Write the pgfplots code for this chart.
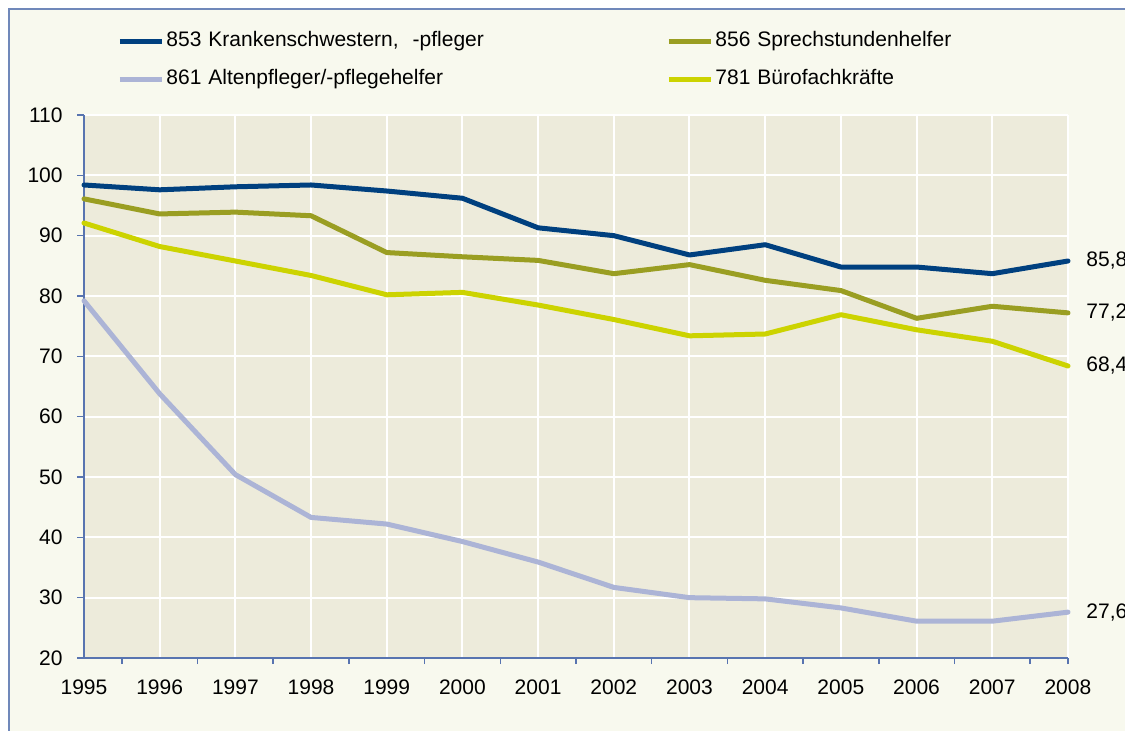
\documentclass[border=0pt]{standalone}
\usepackage{fontspec}
\setmainfont{Liberation Sans}
\usepackage{pgfplots}
\pgfplotsset{compat=1.18}
\definecolor{c853}{HTML}{00407F}
\definecolor{c856}{HTML}{9A9E22}
\definecolor{c861}{HTML}{ACB4D6}
\definecolor{c781}{HTML}{CCD300}
\definecolor{plotbg}{HTML}{EDEBDB}
\definecolor{chartbg}{HTML}{F8F9EE}
\definecolor{axblue}{HTML}{5874B0}
\definecolor{frameblue}{HTML}{7088BA}
\begin{document}
\begin{tikzpicture}
\useasboundingbox (0pt,0pt) rectangle (562.5pt,-365.5pt);
\fill[white] (0pt,0pt) rectangle (562.5pt,-365.5pt);
\filldraw[fill=chartbg, draw=frameblue, line width=1pt] (4.5pt,-4.5pt) rectangle (575pt,-380pt);
\begin{axis}[
  at={(42pt,-329pt)}, anchor=south west,
  width=492pt, height=271.5pt, scale only axis,
  xmin=1995, xmax=2008, ymin=20, ymax=110,
  xtick={1995,...,2008}, ytick={20,30,...,110},
  minor xtick={1995.5,1996.5,...,2007.5,2008},
  /pgf/number format/.cd, 1000 sep={}, assume math mode=true, /pgfplots/.cd,
  axis x line*=bottom, axis y line*=left,
  axis line style={axblue, line width=1pt},
  tick align=outside, major tick length=3.5pt, minor tick length=3pt,
  tick style={axblue, line width=0.75pt},
  every major x tick/.append style={draw=none},
  xmajorgrids, ymajorgrids,
  major grid style={white, line width=1pt},
  axis background/.style={fill=plotbg},
  tick label style={font=\fontsize{10.5}{12}\selectfont, inner sep=0pt},
  xticklabel shift=7pt, yticklabel shift=7pt,
  clip=false,
  legend columns=2,
  legend cell align=left,
  legend style={at={(0.0275,1.1637)}, anchor=north west, draw=none, fill=none,
    font=\fontsize{10.5}{12}\selectfont, column sep=0pt, row sep=8.5pt,
    nodes={inner xsep=1pt, inner ysep=0pt, text width=249pt, text height=8pt, text depth=2.5pt}},
  legend image code/.code={\draw[#1, line width=2.5pt, line cap=butt] (0pt,0pt) -- (21pt,0pt);},
  every axis plot/.append style={line width=2.5pt, line cap=round, line join=round},
]
\addplot[c853] coordinates {(1995,98.4)(1996,97.6)(1997,98.1)(1998,98.4)(1999,97.4)(2000,96.2)(2001,91.3)(2002,90.0)(2003,86.8)(2004,88.5)(2005,84.8)(2006,84.8)(2007,83.7)(2008,85.8)};
\addlegendentry{853 Krankenschwestern,\ \ -pfleger}
\addplot[c856] coordinates {(1995,96.1)(1996,93.6)(1997,93.9)(1998,93.3)(1999,87.2)(2000,86.5)(2001,85.9)(2002,83.7)(2003,85.2)(2004,82.6)(2005,80.9)(2006,76.3)(2007,78.3)(2008,77.2)};
\addlegendentry{856 Sprechstundenhelfer}
\addplot[c861] coordinates {(1995,79.2)(1996,63.8)(1997,50.4)(1998,43.3)(1999,42.2)(2000,39.3)(2001,35.9)(2002,31.7)(2003,30.0)(2004,29.8)(2005,28.3)(2006,26.1)(2007,26.1)(2008,27.6)};
\addlegendentry{861 Altenpfleger/-pflegehelfer}
\addplot[c781] coordinates {(1995,92.1)(1996,88.2)(1997,85.8)(1998,83.4)(1999,80.2)(2000,80.6)(2001,78.5)(2002,76.1)(2003,73.4)(2004,73.7)(2005,76.9)(2006,74.4)(2007,72.5)(2008,68.4)};
\addlegendentry{781 Bürofachkräfte}
\node[anchor=west, inner sep=0pt, xshift=9pt, font=\fontsize{10.5}{12}\selectfont] at (axis cs:2008,85.8) {85,8};
\node[anchor=west, inner sep=0pt, xshift=9pt, font=\fontsize{10.5}{12}\selectfont] at (axis cs:2008,77.2) {77,2};
\node[anchor=west, inner sep=0pt, xshift=9pt, font=\fontsize{10.5}{12}\selectfont] at (axis cs:2008,68.4) {68,4};
\node[anchor=west, inner sep=0pt, xshift=9pt, font=\fontsize{10.5}{12}\selectfont] at (axis cs:2008,27.6) {27,6};
\end{axis}
\end{tikzpicture}
\end{document}
